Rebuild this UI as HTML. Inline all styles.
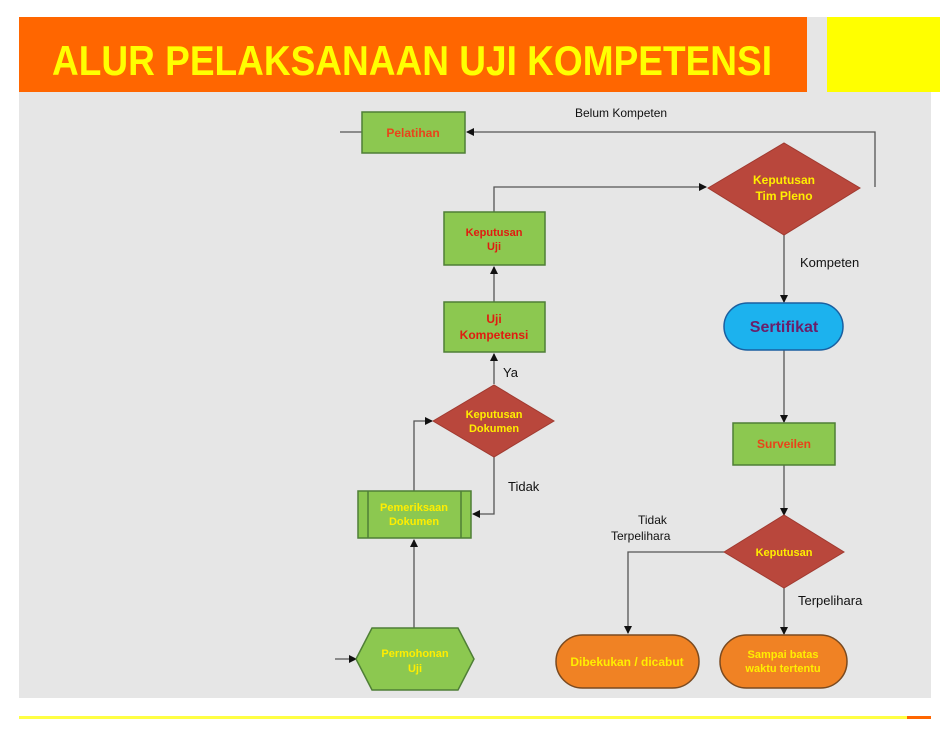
<!DOCTYPE html>
<html><head><meta charset="utf-8"><style>
html,body{margin:0;padding:0;background:#fff;}
svg{display:block;}
text{font-family:"Liberation Sans",sans-serif;}
</style></head><body>
<svg width="948" height="735" viewBox="0 0 948 735" xmlns="http://www.w3.org/2000/svg">
<defs>
<marker id="a" markerWidth="8" markerHeight="8" refX="7" refY="4" orient="auto" markerUnits="userSpaceOnUse">
<path d="M0,0 L8,4 L0,8 z" fill="#111"/></marker>
</defs>
<rect x="0" y="0" width="948" height="735" fill="#fff"/>
<rect x="19" y="17" width="912" height="681" fill="#e6e6e6"/>
<rect x="19" y="17" width="788" height="75" fill="#ff6600"/>
<rect x="827" y="17" width="113" height="75" fill="#ffff00"/>
<text x="52" y="75" font-size="42" font-weight="bold" fill="#ffff00" textLength="720" lengthAdjust="spacingAndGlyphs">ALUR PELAKSANAAN UJI KOMPETENSI</text>
<rect x="19" y="716" width="888" height="3" fill="#ffff44"/>
<rect x="907" y="716" width="24" height="3" fill="#ff6600"/>

<g stroke="#555" stroke-width="1.3" fill="none">
<line x1="340" y1="132" x2="362" y2="132"/>
<polyline points="875,187 875,132 467,132" marker-end="url(#a)"/>
<polyline points="494,212 494,187 706,187" marker-end="url(#a)"/>
<line x1="494" y1="302" x2="494" y2="267" marker-end="url(#a)"/>
<line x1="494" y1="384" x2="494" y2="354" marker-end="url(#a)"/>
<polyline points="414,491 414,421 432,421" marker-end="url(#a)"/>
<polyline points="494,457 494,514 473,514" marker-end="url(#a)"/>
<line x1="414" y1="628" x2="414" y2="540" marker-end="url(#a)"/>
<line x1="335" y1="659" x2="356" y2="659" marker-end="url(#a)"/>
<line x1="784" y1="235" x2="784" y2="302" marker-end="url(#a)"/>
<line x1="784" y1="350" x2="784" y2="422" marker-end="url(#a)"/>
<line x1="784" y1="465" x2="784" y2="515" marker-end="url(#a)"/>
<polyline points="724,552 628,552 628,633" marker-end="url(#a)"/>
<line x1="784" y1="588" x2="784" y2="634" marker-end="url(#a)"/>
</g>

<g stroke="#4f7f36" stroke-width="1.5" fill="#8cc850">
<rect x="362" y="112" width="103" height="41"/>
<rect x="444" y="212" width="101" height="53"/>
<rect x="444" y="302" width="101" height="50"/>
<rect x="358" y="491" width="113" height="47"/>
<line x1="368" y1="491" x2="368" y2="538"/>
<line x1="461" y1="491" x2="461" y2="538"/>
<polygon points="356,659 372,628 458,628 474,659 458,690 372,690"/>
<rect x="733" y="423" width="102" height="42"/>
</g>
<g fill="#b9473c" stroke="#a03a30" stroke-width="1">
<polygon points="708,188 784,143 860,188 784,235"/>
<polygon points="433,421 494,385 554,421 494,457"/>
<polygon points="724,552 784,515 844,552 784,588"/>
</g>
<rect x="724" y="303" width="119" height="47" rx="23.5" fill="#1cb2ee" stroke="#1a5fa0" stroke-width="1.5"/>
<rect x="556" y="635" width="143" height="53" rx="26.5" fill="#f08224" stroke="#7a4a20" stroke-width="1.5"/>
<rect x="720" y="635" width="127" height="53" rx="26.5" fill="#f08224" stroke="#7a4a20" stroke-width="1.5"/>

<g font-weight="bold" font-size="12" text-anchor="middle">
<text x="413" y="137" fill="#e8441a">Pelatihan</text>
<text x="494" y="236" fill="#e01c10" font-size="11">Keputusan</text>
<text x="494" y="250" fill="#e01c10" font-size="11">Uji</text>
<text x="494" y="323" fill="#e01c10">Uji</text>
<text x="494" y="339" fill="#e01c10">Kompetensi</text>
<text x="784" y="184" fill="#ffee00">Keputusan</text>
<text x="784" y="200" fill="#ffee00">Tim Pleno</text>
<text x="494" y="418" fill="#ffee00" font-size="11">Keputusan</text>
<text x="494" y="432" fill="#ffee00" font-size="11">Dokumen</text>
<text x="414" y="511" fill="#ffee00" font-size="11">Pemeriksaan</text>
<text x="414" y="525" fill="#ffee00" font-size="11">Dokumen</text>
<text x="415" y="657" fill="#ffee00" font-size="11">Permohonan</text>
<text x="415" y="672" fill="#ffee00" font-size="11">Uji</text>
<text x="784" y="332" fill="#6a1f6a" font-size="16">Sertifikat</text>
<text x="784" y="448" fill="#e8441a">Surveilen</text>
<text x="784" y="556" fill="#ffee00" font-size="11">Keputusan</text>
<text x="627" y="666" fill="#ffee00">Dibekukan / dicabut</text>
<text x="783" y="658" fill="#ffee00" font-size="11">Sampai batas</text>
<text x="783" y="672" fill="#ffee00" font-size="11">waktu tertentu</text>
</g>
<g font-size="13" fill="#111">
<text x="575" y="117" font-size="12">Belum Kompeten</text>
<text x="800" y="267">Kompeten</text>
<text x="503" y="377">Ya</text>
<text x="508" y="491">Tidak</text>
<text x="638" y="524" font-size="12">Tidak</text>
<text x="611" y="540" font-size="12">Terpelihara</text>
<text x="798" y="605">Terpelihara</text>
</g>
</svg>
</body></html>
